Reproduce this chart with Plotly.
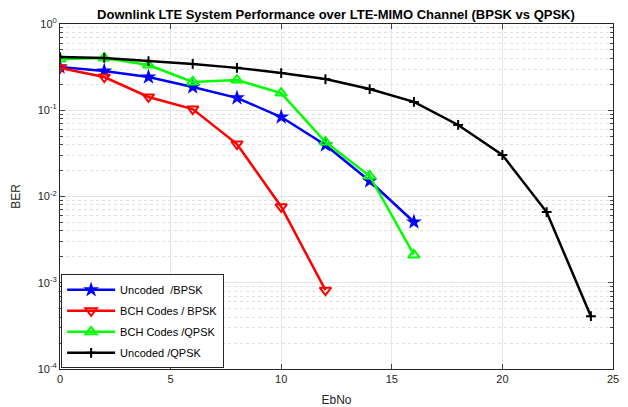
import plotly.graph_objects as go

ebno_bpsk = [0, 2, 4, 6, 8, 10, 12, 14, 16]
ber_uncoded_bpsk = [0.317, 0.285, 0.243, 0.186, 0.139, 0.0835, 0.0395, 0.0151, 0.00506]

ebno_bch_bpsk = [0, 2, 4, 6, 8, 10, 12]
ber_bch_bpsk = [0.31, 0.243, 0.1425, 0.1033, 0.0406, 0.0076, 0.00082]

ebno_bch_qpsk = [0, 2, 4, 6, 8, 10, 12, 14, 16]
ber_bch_qpsk = [0.393, 0.404, 0.335, 0.213, 0.224, 0.158, 0.0428, 0.0173, 0.0021]

ebno_qpsk = [0, 2, 4, 6, 8, 10, 12, 14, 16, 18, 20, 22, 24]
ber_uncoded_qpsk = [0.414, 0.404, 0.372, 0.344, 0.31, 0.27, 0.23, 0.176, 0.125, 0.0675, 0.0303, 0.0066, 0.00041]

names = ["Uncoded  /BPSK", "BCH Codes / BPSK", "BCH Codes /QPSK", "Uncoded /QPSK"]
x_ticks = [0, 5, 10, 15, 20, 25]
y_ticks = [1e-4, 1e-3, 1e-2, 1e-1, 1]
y_ticktext = ["10<sup>-4</sup>", "10<sup>-3</sup>", "10<sup>-2</sup>", "10<sup>-1</sup>", "10<sup>0</sup>"]

fig = go.Figure()
fig.add_trace(go.Scatter(x=ebno_bpsk, y=ber_uncoded_bpsk, name=names[0], mode="lines+markers",
                         line=dict(color="#0000FF", width=2.5),
                         marker=dict(symbol="star", size=12, color="#0000FF"), legendgroup="a"))
fig.add_trace(go.Scatter(x=ebno_bch_bpsk, y=ber_bch_bpsk, name=names[1], mode="lines+markers",
                         line=dict(color="#FF0000", width=2.5),
                         marker=dict(symbol="triangle-down-open", size=10, color="#FF0000",
                                     line=dict(width=2, color="#FF0000")), legendgroup="b"))
fig.add_trace(go.Scatter(x=ebno_bch_qpsk, y=ber_bch_qpsk, name=names[2], mode="lines+markers",
                         line=dict(color="#00FF00", width=2.5),
                         marker=dict(symbol="triangle-up-open", size=10, color="#00FF00",
                                     line=dict(width=2, color="#00FF00")), legendgroup="c"))
fig.add_trace(go.Scatter(x=ebno_qpsk, y=ber_uncoded_qpsk, name=names[3], mode="lines+markers",
                         line=dict(color="#000000", width=2.5),
                         marker=dict(symbol="cross-thin", size=7, color="#000000",
                                     line=dict(width=2, color="#000000")), legendgroup="d"))

fig.update_layout(
    width=620, height=399,
    margin=dict(l=52, r=15, t=16, b=38),
    paper_bgcolor="white", plot_bgcolor="white",
    font=dict(family="Liberation Sans, Arial, sans-serif", size=11, color="#262626"),
    title=dict(text="<b>Downlink LTE System Performance over LTE-MIMO Channel (BPSK vs QPSK)</b>",
               x=0.529, xanchor="center", y=1 - 6.5 / 399, yanchor="middle",
               font=dict(size=13, color="#000000")),
    showlegend=True,
    legend=dict(x=0.002, y=0.002, xanchor="left", yanchor="bottom",
                bgcolor="white", bordercolor="#262626", borderwidth=1,
                font=dict(size=11, color="#000000"), tracegroupgap=2,
                itemwidth=48),
)
fig.update_xaxes(range=[0, 25], tickvals=x_ticks, ticks="inside", ticklen=5, automargin=False,
                 showline=True, linecolor="#262626", linewidth=1, mirror="ticks",
                 showgrid=True, gridcolor="#E6E6E6", gridwidth=1, zeroline=False,
                 title=dict(text="EbNo", standoff=11, font=dict(size=12)))
fig.update_yaxes(type="log", range=[-4, 0], tickvals=y_ticks, ticktext=y_ticktext,
                 ticks="inside", ticklen=5, automargin=False,
                 showline=True, linecolor="#262626", linewidth=1, mirror="ticks",
                 showgrid=True, gridcolor="#E6E6E6", gridwidth=1, zeroline=False,
                 minor=dict(ticks="inside", ticklen=3, showgrid=True, gridcolor="#E0E0E0",
                            griddash="dot", gridwidth=1,
                            tickvals=[m * 10 ** e for e in range(-4, 0) for m in range(2, 10)]),
                 title=dict(text="BER", standoff=14, font=dict(size=12)))

fig.write_html("out.html")
